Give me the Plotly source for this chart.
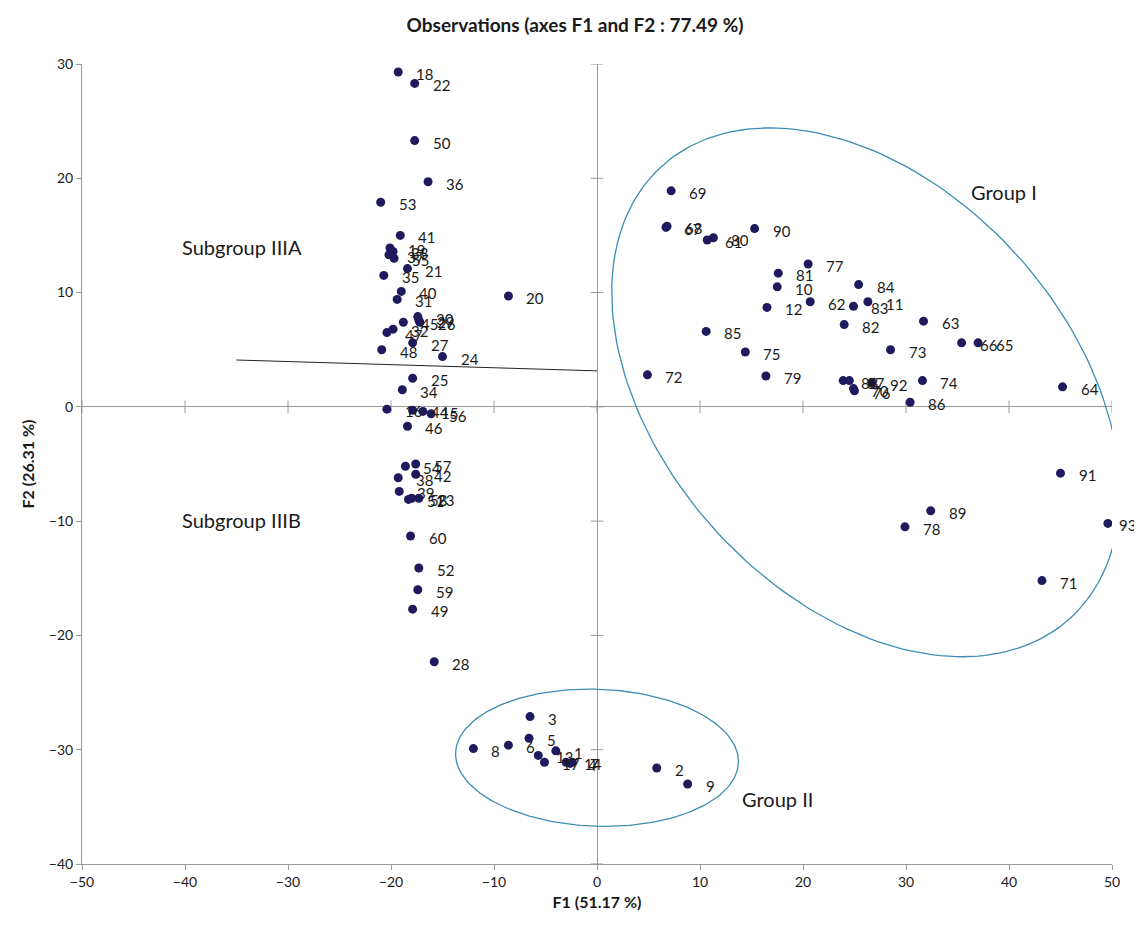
import numpy as np
import plotly.graph_objects as go

# ---- data (F1, F2 coordinates of observations) ----
labels = ["18","22","50","36","53","41","19","33","37","55","21","35","40","31","20",
          "45","30","29","26","32","47","27","48","24","25","34","16","44","15","56","46",
          "54","57","42","38","39","51","58","23","60","52","59","49","28",
          "3","5","8","6","13","17","1","14","4","7","2","9",
          "69","67","68","61","80","90","77","81","10","12","62","83","11","84","82",
          "63","66","65","73","72","79","75","85","88","87","76","70","92","74","86",
          "64","91","93","89","78","71"]
f1 = [-19.3,-17.7,-17.7,-16.4,-21.0,-19.1,-20.1,-19.8,-20.2,-19.7,-18.4,-20.7,-19.0,-19.4,-8.6,
      -18.8,-17.4,-17.3,-17.2,-19.8,-20.4,-17.9,-20.9,-15.0,-17.9,-18.9,-20.4,-17.9,-16.9,-16.1,-18.4,
      -18.6,-17.6,-17.6,-19.3,-19.2,-18.3,-18.0,-17.3,-18.1,-17.3,-17.4,-17.9,-15.8,
      -6.5,-6.6,-12.0,-8.6,-5.7,-5.1,-4.0,-3.0,-2.6,-2.4,5.8,8.8,
      7.2,6.7,6.8,10.7,11.3,15.3,20.5,17.6,17.5,16.5,20.7,24.9,26.3,25.4,24.0,
      31.7,35.4,37.0,28.5,4.9,16.4,14.4,10.6,23.9,24.5,25.0,24.9,26.7,31.6,30.4,
      45.2,45.0,49.6,32.4,29.9,43.2]
f2 = [29.3,28.3,23.3,19.7,17.9,15.0,13.9,13.6,13.3,13.0,12.1,11.5,10.1,9.4,9.7,
      7.4,7.9,7.6,7.4,6.8,6.5,5.6,5.0,4.4,2.5,1.5,-0.2,-0.3,-0.4,-0.6,-1.7,
      -5.2,-5.0,-5.9,-6.2,-7.4,-8.1,-8.0,-8.0,-11.3,-14.1,-16.0,-17.7,-22.3,
      -27.1,-29.0,-29.9,-29.6,-30.5,-31.1,-30.1,-31.1,-31.2,-31.1,-31.6,-33.0,
      18.9,15.7,15.8,14.6,14.8,15.6,12.5,11.7,10.5,8.7,9.2,8.8,9.2,10.7,7.2,
      7.5,5.6,5.6,5.0,2.8,2.7,4.8,6.6,2.3,2.3,1.4,1.6,2.1,2.3,0.4,
      1.75,-5.8,-10.2,-9.1,-10.5,-15.2]

x_ticks = [-50,-40,-30,-20,-10,0,10,20,30,40,50]
y_ticks = [-40,-30,-20,-10,0,10,20,30]

group_text = ["Group I","Subgroup IIIA","Subgroup IIIB","Group II"]
group_x = [39.5,-34.5,-34.5,17.5]
group_y = [18.8,14.0,-9.9,-34.3]

# pixels per data unit (plot area 1030 x 800 px)
PX_X = 1030/100.0
PX_Y = 800/70.0

def ellipse(cx, cy, a_px, b_px, ang_deg):
    t = np.linspace(0, 2*np.pi, 200)
    th = np.radians(ang_deg)
    dx = a_px*np.cos(t)*np.cos(th) - b_px*np.sin(t)*np.sin(th)
    dy = a_px*np.cos(t)*np.sin(th) + b_px*np.sin(t)*np.cos(th)
    xs = cx + dx/PX_X
    ys = cy - dy/PX_Y
    return xs, ys

fig = go.Figure()

e1x, e1y = ellipse(26.1, 1.27, 304.6, 204.2, 48)
e2x, e2y = ellipse(0.0, -30.7, 141.5, 68.5, 2)
for ex, ey in [(e1x, e1y), (e2x, e2y)]:
    fig.add_trace(go.Scatter(x=ex, y=ey, mode="lines",
                             line=dict(color="#3d8db5", width=1.3),
                             hoverinfo="skip", showlegend=False))

# separating line
fig.add_trace(go.Scatter(x=[-35, 0], y=[4.1, 3.15], mode="lines",
                         line=dict(color="#222222", width=1), showlegend=False,
                         hoverinfo="skip"))

# tick marks on zero lines
fig.add_trace(go.Scatter(x=[0]*len(y_ticks), y=y_ticks, mode="markers",
                         marker=dict(symbol="line-ew", size=9,
                                     line=dict(color="#9a9a9a", width=1)),
                         showlegend=False, hoverinfo="skip"))
fig.add_trace(go.Scatter(x=x_ticks, y=[0]*len(x_ticks), mode="markers",
                         marker=dict(symbol="line-ns", size=9,
                                     line=dict(color="#9a9a9a", width=1)),
                         showlegend=False, hoverinfo="skip"))

fig.add_trace(go.Scatter(x=f1, y=f2, mode="markers",
                         marker=dict(color="#1f1a5e", size=9),
                         text=labels, showlegend=False))

for lab, xv, yv in zip(labels, f1, f2):
    fig.add_annotation(x=xv, y=yv, text=lab, showarrow=False, xanchor="left",
                       xshift=16 if xv < 48 else 9, yshift=-2,
                       font=dict(family="Lato", size=15, color="#1a1a1a"))

for t, xv, yv in zip(group_text, group_x, group_y):
    fig.add_annotation(x=xv, y=yv, text=t, showarrow=False,
                       font=dict(family="Lato", size=20, color="#1a1a1a"))

axis_common = dict(showgrid=False, zeroline=True, zerolinecolor="#9a9a9a",
                   zerolinewidth=1, showline=True, linecolor="#9a9a9a",
                   linewidth=1, ticks="outside", tickcolor="#9a9a9a",
                   ticklen=5, automargin=False,
                   tickfont=dict(family="Lato", size=14, color="#1a1a1a"))

fig.update_layout(
    width=1134, height=914,
    plot_bgcolor="white", paper_bgcolor="white",
    margin=dict(l=74, r=30, t=56, b=58),
    title=dict(text="<b>Observations (axes F1 and F2 : 77.49 %)</b>",
               x=0.5, xanchor="center", y=1 - 17/914, yanchor="middle",
               font=dict(family="Lato", size=19, color="#1a1a1a")),
    xaxis=dict(range=[-50, 50], tickvals=x_ticks,
               title=dict(text="<b>F1 (51.17 %)</b>", standoff=8,
                          font=dict(family="Lato", size=16, color="#1a1a1a")),
               **axis_common),
    yaxis=dict(range=[-40, 30], tickvals=y_ticks,
               title=dict(text="<b>F2 (26.31 %)</b>", standoff=10,
                          font=dict(family="Lato", size=16, color="#1a1a1a")),
               **axis_common),
)

fig.write_html("out.html")
